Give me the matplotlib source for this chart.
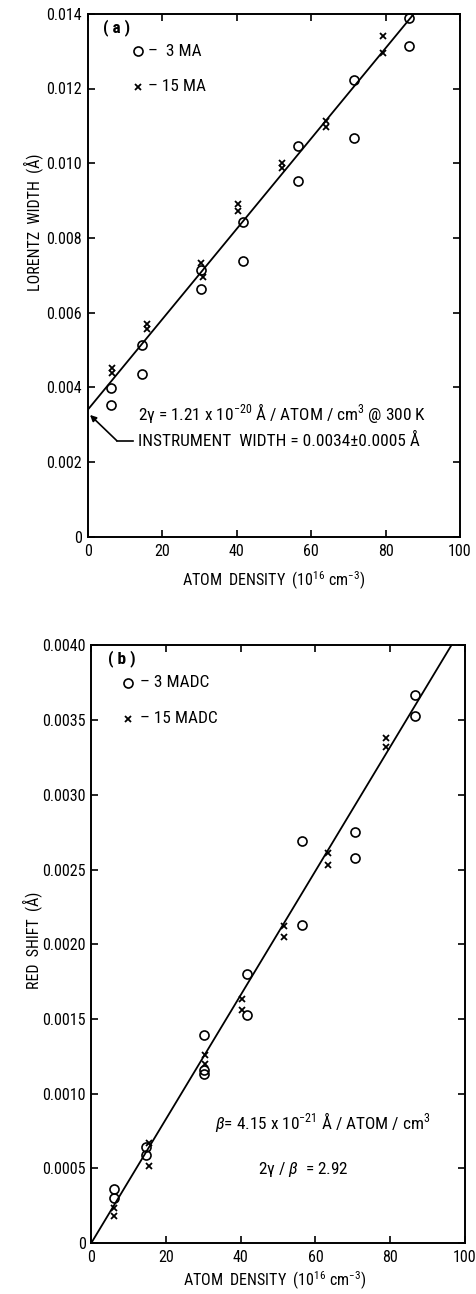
import numpy as np
import matplotlib
matplotlib.use("Agg")
import matplotlib.pyplot as plt
from matplotlib import font_manager as fm

names = {f.name for f in fm.fontManager.ttflist}
cands = ['Liberation Sans Narrow', 'DejaVu Sans Condensed', 'Roboto Condensed', 'Open Sans Condensed']
fam = [c for c in cands if c in names] + ['DejaVu Sans']
plt.rcParams['font.family'] = fam
plt.rcParams['font.stretch'] = 'condensed'
plt.rcParams['mathtext.fontset'] = 'custom'
plt.rcParams['mathtext.rm'] = fam[0]
plt.rcParams['mathtext.it'] = fam[0] + ':italic'

# ---------------- data: panel (a) Lorentz width ----------------
dens_3ma = [6.2, 6.2, 14.6, 14.5, 30.3, 30.3, 41.8, 41.6, 56.6, 56.6, 71.4, 71.4, 86.3, 86.3]
width_3ma = [0.00353, 0.00397, 0.00436, 0.00513, 0.00714, 0.00663, 0.00843, 0.00738,
             0.00952, 0.01046, 0.01223, 0.01067, 0.01314, 0.0139]
dens_15ma = [6.6, 6.6, 15.8, 15.8, 30.3, 31.0, 40.4, 40.4, 52.1, 52.1, 64.0, 64.0, 79.4, 79.4]
width_15ma = [0.00451, 0.00439, 0.00569, 0.00556, 0.00732, 0.00695, 0.00891, 0.00873,
              0.0100, 0.00986, 0.01114, 0.01096, 0.0134, 0.01296]
intercept_a = 0.0034
slope_a = 1.21e-4

# ---------------- data: panel (b) red shift ----------------
dens_3madc = [6.2, 6.2, 14.6, 14.6, 30.2, 30.2, 30.2, 41.6, 41.6, 56.5, 56.3, 70.6, 70.6, 86.7, 86.7]
shift_3madc = [0.000359, 0.000299, 0.000645, 0.000589, 0.00139, 0.00116, 0.00113, 0.0018,
               0.001526, 0.00269, 0.00213, 0.00275, 0.00258, 0.00367, 0.00353]
dens_15madc = [6.2, 6.2, 15.5, 15.5, 30.4, 30.4, 40.3, 40.3, 51.6, 51.6, 63.5, 63.5, 78.8, 78.8]
shift_15madc = [0.000232, 0.000181, 0.00067, 0.000517, 0.00126, 0.0012, 0.00163, 0.00156,
                0.00212, 0.00205, 0.00261, 0.00253, 0.00338, 0.00332]
slope_b = 4.15e-5

xticks = [0, 20, 40, 60, 80, 100]
xticklabels = ['0', '20', '40', '60', '80', '100']
yticks_a = [0, 0.002, 0.004, 0.006, 0.008, 0.010, 0.012, 0.014]
yticklabels_a = ['0', '0.002', '0.004', '0.006', '0.008', '0.010', '0.012', '0.014']
yticks_b = [0, 0.0005, 0.0010, 0.0015, 0.0020, 0.0025, 0.0030, 0.0035, 0.0040]
yticklabels_b = ['0', '0.0005', '0.0010', '0.0015', '0.0020', '0.0025', '0.0030', '0.0035', '0.0040']

fig = plt.figure(figsize=(4.76, 12.94), dpi=100)
W, H = 476, 1294
ax1 = fig.add_axes([87.8 / W, 1 - 536.7 / H, (460 - 87.8) / W, (536.7 - 13.8) / H])
ax2 = fig.add_axes([91.3 / W, 1 - 1243 / H, (464.8 - 91.3) / W, (1243 - 645.4) / H])

FS_TICK = 11.5
FS_TXT = 12.4
FS_LAB = 11.5
circ = dict(marker='o', ms=6.5, mfc='none', mec='black', mew=1.2, ls='none', clip_on=False)
cross = dict(marker='x', ms=4.5, mec='black', mew=1.3, ls='none', clip_on=False)


def style(ax, yticks, ylabels):
    ax.set_xlim(0, 100)
    ax.set_xticks(xticks)
    ax.set_xticklabels(xticklabels, fontsize=FS_TICK)
    ax.set_yticks(yticks)
    ax.set_yticklabels(ylabels, fontsize=FS_TICK)
    ax.set_ylim(yticks[0], yticks[-1])
    ax.tick_params(direction='in', length=5, width=1.2, top=True, right=True, pad=4)
    ax.tick_params(axis='x', pad=5)
    for s in ax.spines.values():
        s.set_linewidth(1.4)


# ---------------- panel (a) ----------------
style(ax1, yticks_a, yticklabels_a)
xa = np.array([0, (yticks_a[-1] - intercept_a) / slope_a])
ax1.plot(xa, intercept_a + slope_a * xa, color='black', lw=1.3)
ax1.plot(dens_3ma, width_3ma, **circ)
ax1.plot(dens_15ma, width_15ma, **cross)

ax1.text(7.6, 0.01362, '( a )', fontsize=FS_TXT, ha='center', va='center', fontweight='bold')
ax1.plot([13.6], [0.0130], **circ)
ax1.text(16.3, 0.0130, '–  3 MA', fontsize=FS_TXT, va='center')
ax1.plot([13.6], [0.01205], **cross)
ax1.text(16.3, 0.01205, '– 15 MA', fontsize=FS_TXT, va='center')

ax1.text(13.6, 0.0033, '2γ = 1.21 x 10$^{-20}$ Å / ATOM / cm$^{3}$ @ 300 K',
         fontsize=FS_TXT, va='center')
ax1.text(13.6, 0.00257, 'INSTRUMENT  WIDTH = 0.0034±0.0005 Å', fontsize=FS_TXT, va='center')
ax1.plot([12.2, 7.8], [0.00257, 0.00257], color='black', lw=1.2)
ax1.annotate('', xy=(0.6, 0.00326), xytext=(7.8, 0.00257),
             arrowprops=dict(arrowstyle='-|>', color='black', lw=1.2, mutation_scale=9,
                             shrinkA=0, shrinkB=0))

ax1.set_xlabel('ATOM  DENSITY  (10$^{16}$ cm$^{-3}$)', fontsize=FS_LAB)
ax1.xaxis.set_label_coords(0.50, -(581 - 536.7) / 522.9)
ax1.xaxis.label.set_va('center')
ax1.set_ylabel('LORENTZ  WIDTH  (Å)', fontsize=FS_LAB)
ax1.yaxis.set_label_coords(-0.147, 0.602)
ax1.yaxis.label.set_va('center')

# ---------------- panel (b) ----------------
style(ax2, yticks_b, yticklabels_b)
xb = np.array([0, yticks_b[-1] / slope_b])
ax2.plot(xb, slope_b * xb, color='black', lw=1.3)
ax2.plot(dens_3madc, shift_3madc, **circ)
ax2.plot(dens_15madc, shift_15madc, **cross)

ax2.text(8.1, 0.00391, '( b )', fontsize=FS_TXT, ha='center', va='center', fontweight='bold')
ax2.plot([9.9], [0.00375], **circ)
ax2.text(13.0, 0.00375, '– 3 MADC', fontsize=FS_TXT, va='center')
ax2.plot([9.9], [0.00351], **cross)
ax2.text(13.0, 0.00351, '– 15 MADC', fontsize=FS_TXT, va='center')

ax2.text(33.2, 0.000812, '$\\mathit{β}$= 4.15 x 10$^{-21}$ Å / ATOM / cm$^{3}$',
         fontsize=FS_TXT, va='center')
ax2.text(44.7, 0.000489, '2γ / $\\mathit{β}$  = 2.92', fontsize=FS_TXT, va='center')

ax2.set_xlabel('ATOM  DENSITY  (10$^{16}$ cm$^{-3}$)', fontsize=FS_LAB)
ax2.xaxis.set_label_coords(0.49, -(1281 - 1243) / 597.6)
ax2.xaxis.label.set_va('center')
ax2.set_ylabel('RED  SHIFT  (Å)', fontsize=FS_LAB)
ax2.yaxis.set_label_coords(-0.159, 0.507)
ax2.yaxis.label.set_va('center')

fig.savefig('out.png', dpi=100)
